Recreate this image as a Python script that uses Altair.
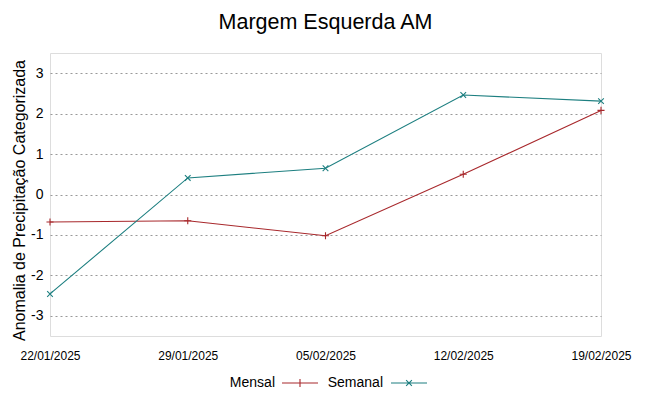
import altair as alt
import pandas as pd

dates = ["22/01/2025", "29/01/2025", "05/02/2025", "12/02/2025", "19/02/2025"]
mensal = [-0.68, -0.65, -1.02, 0.50, 2.08]
semanal = [-2.46, 0.41, 0.65, 2.46, 2.31]
colors = {"Mensal": "#a8282c", "Semanal": "#1d7f80"}
yticks = [-3, -2, -1, 0, 1, 2, 3]

df_m = pd.DataFrame({"data": dates, "valor": mensal, "serie": "Mensal"})
df_s = pd.DataFrame({"data": dates, "valor": semanal, "serie": "Semanal"})

x = alt.X("data:O", sort=dates, scale=alt.Scale(type="point", padding=0),
          axis=alt.Axis(title=None, labelAngle=0, labelFont="Liberation Sans",
                        labelFontSize=12, labelColor="#000", tickSize=0, labelPadding=14,
                        domain=False, grid=False))
y = alt.Y("valor:Q", scale=alt.Scale(domain=[-3.5, 3.5], nice=False, zero=False),
          axis=alt.Axis(title="Anomalia de Precipitação Categorizada", values=yticks,
                        labelExpr="replace(datum.label, '−', '-')",
                        titleFont="Liberation Sans", titleFontSize=16, titleFontWeight="normal",
                        titleColor="#000", titlePadding=3, titleY=147,
                        labelFont="Liberation Sans",
                        labelFontSize=14, labelColor="#000", tickSize=0, labelPadding=7,
                        domain=False, grid=True, gridColor="#999", gridDash=[2, 3], gridWidth=1))


def series_layers(df, name, legend_x, label_gap, sym_path, marker_path):
    col = colors[name]
    line = alt.Chart(df).mark_line(strokeWidth=1.1).encode(
        x=x, y=y,
        color=alt.Color("serie:N", scale=alt.Scale(domain=[name], range=[col]),
                        legend=alt.Legend(title=None, orient="none", legendX=legend_x,
                                          legendY=311, direction="horizontal",
                                          symbolType=sym_path, symbolSize=1296,
                                          symbolStrokeWidth=1.1,
                                          labelAlign="right",
                                          labelOffset={"expr": str(-(36 + label_gap))},
                                          padding=0,
                                          labelFont="Liberation Sans", labelFontSize=14,
                                          labelColor="#000")),
    )
    pts = alt.Chart(df).mark_point(shape=marker_path, size=50, strokeWidth=1.1,
                                   filled=False, color=col, opacity=1).encode(x=x, y=y)
    return line, pts


lm, pm = series_layers(df_m, "Mensal", 231, 8, "M-1,0H1M0,-0.22V0.22",
                       "M-1,0H1M0,-1V1")
ls, ps = series_layers(df_s, "Semanal", 340, 9,
                       "M-1,0H1M-0.16,-0.16L0.16,0.16M-0.16,0.16L0.16,-0.16",
                       "M-0.8,-0.8L0.8,0.8M-0.8,0.8L0.8,-0.8")

chart = alt.layer(lm, ls, pm, ps).resolve_scale(color="independent").properties(
    width=551, height=283,
    autosize=alt.AutoSizeParams(type="none"),
    padding={"left": 42, "top": 45, "right": 40, "bottom": 52},
    title=alt.TitleParams("Margem Esquerda AM", font="Liberation Sans", fontSize=21.5,
                          fontWeight="normal", color="#000", offset=20),
).configure_view(stroke="#555", strokeWidth=1.2).configure(background="white")

chart.save("out.html", embed_options={"renderer": "svg", "actions": False})
